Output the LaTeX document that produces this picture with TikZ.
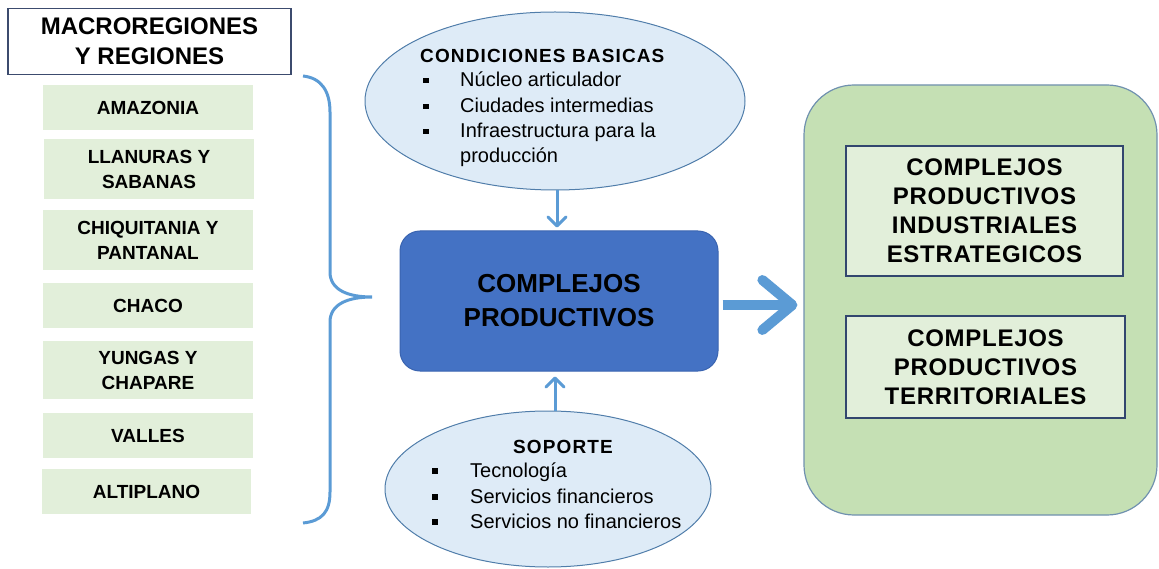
\documentclass[tikz,border=0pt]{standalone}
\usepackage{fontspec}
\setmainfont{Liberation Sans}
\usetikzlibrary{shapes.geometric,arrows.meta}
\definecolor{ellfill}{RGB}{222,235,247}
\definecolor{ellline}{RGB}{80,125,170}
\definecolor{cpfill}{RGB}{68,114,196}
\definecolor{cpline}{RGB}{58,100,176}
\definecolor{arrblue}{RGB}{91,155,213}
\definecolor{lgreen}{RGB}{226,239,218}
\definecolor{bgreen}{RGB}{197,224,180}
\definecolor{bgline}{RGB}{112,145,175}
\definecolor{navy}{RGB}{50,70,110}
\definecolor{titleline}{RGB}{60,75,110}
\newcommand{\sqbul}{\rule[3.5pt]{5.5pt}{5.5pt}}
\begin{document}
\begin{tikzpicture}[x=1pt,y=-1pt,
  titlebox/.style={draw=titleline,line width=1.2pt,fill=white,align=center,inner sep=0pt,
    font=\fontsize{24}{30}\selectfont\bfseries},
  region/.style={fill=lgreen,align=center,inner sep=0pt,minimum width=210,
    font=\fontsize{19}{25}\selectfont\bfseries},
  ell/.style={ellipse,draw=ellline,line width=1pt,fill=ellfill,inner sep=0pt},
  ellhead/.style={anchor=base west,inner sep=0pt,
    font=\fontsize{19}{24}\selectfont\bfseries\addfontfeature{LetterSpace=6}},
  ellbul/.style={anchor=base west,inner sep=0pt},
  ellitem/.style={anchor=base west,inner sep=0pt,font=\fontsize{20}{26}\selectfont},
  cpbox/.style={draw=cpline,line width=1pt,fill=cpfill,rounded corners=20pt,align=center,
    inner sep=0pt,font=\fontsize{26}{34}\selectfont\bfseries},
  bigbox/.style={draw=bgline,line width=1.2pt,fill=bgreen,rounded corners=50pt,inner sep=0pt},
  innerbox/.style={draw=navy,line width=1.2pt,fill=lgreen,align=center,inner sep=0pt,
    font=\fontsize{24}{29}\selectfont\bfseries\addfontfeature{LetterSpace=3}},
  thinarrow/.style={draw=arrblue,line width=3pt,
    -{Straight Barb[length=9pt,width=18pt,line cap=round,line join=round]}},
  bigarrow/.style={draw=arrblue,line width=10pt,
    -{Straight Barb[length=30pt,width=50pt,line cap=round,line join=round]}},
  bracepath/.style={draw=arrblue,line width=3pt}
]
\useasboundingbox (0,0) rectangle (1159,569);

% title
\node[titlebox,minimum width=283,minimum height=66] (title) at (149.5,41.5) {MACROREGIONES\\Y REGIONES};

% regions
\node[region,minimum height=45] (amaz) at (148,107.5) {AMAZONIA};
\node[region,minimum height=60] (llan) at (149,169) {LLANURAS Y\\SABANAS};
\node[region,minimum height=60] (chiq) at (148,240) {CHIQUITANIA Y\\PANTANAL};
\node[region,minimum height=45] (chaco) at (148,305.5) {CHACO};
\node[region,minimum height=58] (yung) at (148,370) {YUNGAS Y\\CHAPARE};
\node[region,minimum height=45] (vall) at (148,435.5) {VALLES};
\node[region,minimum height=45,minimum width=209] (alti) at (146.5,491.5) {ALTIPLANO};

% brace
\coordinate (btop) at (303,76);
\coordinate (btip) at (372,297);
\coordinate (bbot) at (303,523);
\draw[bracepath] (btop) .. controls (322,78) and (330,92) .. (330,112)
  -- (330,272) .. controls (330,290) and (348,297) .. (btip)
  .. controls (348,297) and (330,304) .. (330,322)
  -- (330,492) .. controls (330,512) and (322,521) .. (bbot);

% top ellipse
\node[ell,minimum width=380,minimum height=178] (cond) at (555,101) {};
\node[ellhead] (condh) at (420,63) {CONDICIONES BASICAS};
\node[ellbul] (cb1) at (423,87) {\sqbul};
\node[ellitem] (ci1) at (460,87) {Núcleo articulador};
\node[ellbul] (cb2) at (423,113) {\sqbul};
\node[ellitem] (ci2) at (460,113) {Ciudades intermedias};
\node[ellbul] (cb3) at (423,138) {\sqbul};
\node[ellitem] (ci3) at (460,138) {Infraestructura para la};
\node[ellitem] (ci4) at (460,163) {producción};

% central box
\node[cpbox,minimum width=318,minimum height=140] (cp) at (559,301) {COMPLEJOS\\PRODUCTIVOS};

% bottom ellipse
\node[ell,minimum width=326,minimum height=156] (sop) at (548,489) {};
\node[ellhead,anchor=base] (soph) at (563,453) {SOPORTE};
\node[ellbul] (sb1) at (432,477) {\sqbul};
\node[ellitem] (si1) at (470,477) {Tecnología};
\node[ellbul] (sb2) at (432,503) {\sqbul};
\node[ellitem] (si2) at (470,503) {Servicios financieros};
\node[ellbul] (sb3) at (432,528) {\sqbul};
\node[ellitem] (si3) at (470,528) {Servicios no financieros};

% right big box
\node[bigbox,minimum width=353,minimum height=430] (grn) at (980.5,300) {};
\node[innerbox,minimum width=277,minimum height=130] (ind) at (984.5,211) {COMPLEJOS\\PRODUCTIVOS\\INDUSTRIALES\\ESTRATEGICOS};
\node[innerbox,minimum width=279,minimum height=102] (ter) at (985.5,367) {COMPLEJOS\\PRODUCTIVOS\\TERRITORIALES};

% arrows
\draw[thinarrow,shorten >=3pt] ([xshift=2]cond.south) -- ([xshift=2]cond.south |- cp.north);
\draw[thinarrow,shorten >=5pt] ([xshift=7]sop.north) -- ([xshift=7]sop.north |- cp.south);
\draw[bigarrow,shorten <=4pt,shorten >=6pt] ([yshift=-4]cp.east) -- ([yshift=-4]cp.east -| grn.west);
\end{tikzpicture}
\end{document}
